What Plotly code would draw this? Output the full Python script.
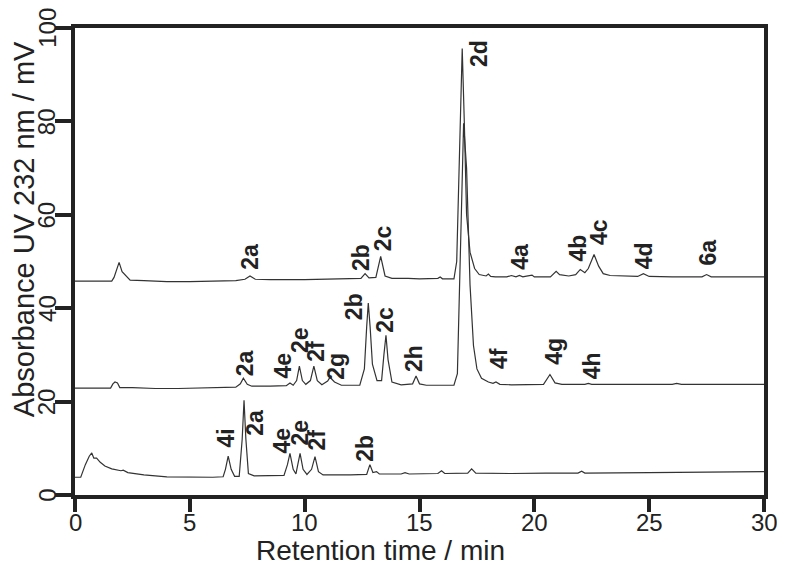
import plotly.graph_objects as go

# chromatogram traces (time in min, absorbance in mV)
top_t = [0, 1.6, 1.7, 1.8, 1.92, 2.05, 2.2, 2.4, 3.0, 4.0, 5.0, 6.0, 7.0, 7.4, 7.62, 7.85, 8.5, 10.0, 11.0, 12.0,
         12.45, 12.63, 12.8, 13.1, 13.31, 13.5, 13.8, 14.5, 15.0, 15.8, 15.9, 16.0, 16.5, 16.62, 16.75, 16.86, 16.95,
         17.05, 17.2, 17.4, 17.6, 17.9, 18.0, 18.1, 18.3, 18.8, 19.0, 19.2, 19.35, 19.5, 19.6, 19.9, 20.0, 20.7,
         20.95, 21.1, 21.5, 21.8, 22.0, 22.2, 22.35, 22.6, 22.8, 23.0, 23.3, 24.0, 24.5, 24.75, 25.0, 26.0, 27.3,
         27.5, 27.7, 28.0, 30.0]
top_v = [45.8, 45.8, 46.6, 48.0, 49.8, 47.8, 47.0, 46.0, 45.9, 45.7, 45.7, 45.8, 45.9, 46.2, 46.9, 46.2, 46.1, 46.1,
         46.2, 46.3, 46.4, 47.4, 46.5, 46.6, 51.1, 46.9, 46.4, 46.4, 46.3, 46.4, 46.7, 46.3, 46.3, 50.0, 75.0, 95.6,
         80.0, 60.0, 52.0, 48.5, 47.2, 46.9, 47.3, 46.8, 46.7, 46.7, 47.0, 46.7, 47.0, 46.7, 46.8, 47.1, 46.7, 46.7,
         47.9, 47.2, 46.9, 47.2, 48.3, 47.6, 48.5, 51.5, 49.0, 47.4, 47.0, 46.8, 46.8, 47.4, 46.8, 46.7, 46.7, 47.2,
         46.7, 46.7, 46.7]

mid_t = [0, 1.55, 1.65, 1.74, 1.85, 1.95, 2.5, 3.5, 4.5, 5.5, 6.5, 7.0, 7.2, 7.33, 7.5, 7.7, 8.5, 9.2, 9.36, 9.5,
         9.65, 9.77, 9.9, 10.05, 10.25, 10.4, 10.55, 10.75, 11.0, 11.1, 11.3, 11.6, 12.4, 12.6, 12.7, 12.77, 12.85,
         12.95, 13.15, 13.35, 13.45, 13.54, 13.63, 13.8, 14.2, 14.7, 14.85, 15.0, 15.3, 16.5, 16.65, 16.8, 16.92,
         17.05, 17.2, 17.35, 17.5, 17.7, 18.0, 18.2, 18.33, 18.5, 19.0, 20.4, 20.68, 20.9, 21.2, 22.2, 22.35, 22.5,
         24.0, 26.0, 26.2, 26.4, 30.0]
mid_v = [22.9, 22.9, 23.8, 24.2, 24.0, 23.0, 23.0, 22.8, 22.8, 22.9, 23.0, 23.1, 23.8, 25.0, 23.7, 23.3, 23.3, 23.4,
         24.0, 23.5, 24.5, 27.6, 24.5, 23.7, 24.5, 27.6, 24.5, 23.6, 24.4, 25.2, 24.2, 23.5, 23.5, 27.0, 36.0, 41.1,
         36.0, 28.0, 24.5, 24.5, 30.0, 34.2, 29.0, 24.2, 23.6, 23.8, 25.5, 23.8, 23.5, 23.5, 26.0, 55.0, 79.6, 70.0,
         45.0, 32.0, 27.0, 25.0, 24.2, 23.9, 24.2, 23.7, 23.6, 23.7, 25.8, 24.0, 23.7, 23.7, 23.9, 23.7, 23.7, 23.7,
         23.9, 23.7, 23.7]

bot_t = [0, 0.25, 0.45, 0.62, 0.73, 0.82, 0.94, 1.1, 1.3, 1.6, 2.0, 2.1, 2.3, 3.0, 4.0, 5.0, 6.0, 6.45, 6.55, 6.67,
         6.8, 6.95, 7.15, 7.28, 7.36, 7.44, 7.55, 7.8, 9.1, 9.25, 9.36, 9.5, 9.62, 9.7, 9.8, 9.93, 10.1, 10.3, 10.45,
         10.6, 10.8, 12.0, 12.7, 12.84, 12.97, 13.13, 13.25, 14.2, 14.37, 14.55, 15.8, 15.96, 16.1, 17.1, 17.27, 17.45,
         19.0, 20.5, 21.9, 22.06, 22.2, 25.0, 28.8, 30.0]
bot_v = [3.8, 3.8, 6.5, 8.3, 9.0, 7.9, 7.9, 7.0, 6.2, 5.6, 5.2, 5.3, 4.8, 4.3, 3.9, 3.8, 3.8, 3.9, 5.5, 8.3, 5.5, 4.0,
         4.0, 12.0, 20.3, 12.0, 4.6, 4.1, 4.2, 6.5, 8.9, 5.5, 4.5, 6.5, 8.9, 5.5, 4.4, 5.5, 8.2, 5.0, 4.3, 4.3, 4.4, 6.5,
         4.8, 5.0, 4.5, 4.5, 4.8, 4.5, 4.6, 5.2, 4.6, 4.7, 5.6, 4.7, 4.6, 4.7, 4.7, 5.1, 4.7, 4.8, 4.9, 5.0]

# peak labels: name, time, absorbance (label centre)
top_lab = ["2a", "2b", "2c", "2d", "4a", "4b", "4c", "4d", "6a"]
top_lab_t = [7.62, 12.48, 13.40, 17.56, 19.37, 21.91, 22.81, 24.81, 27.56]
top_lab_v = [51.0, 50.9, 54.9, 94.5, 51.0, 52.8, 56.3, 51.3, 51.9]

mid_lab = ["2a", "4e", "2e", "2f", "2g", "2b", "2c", "2h", "4f", "4g", "4h"]
mid_lab_t = [7.40, 9.07, 9.80, 10.52, 11.39, 12.12, 13.52, 14.73, 18.43, 20.82, 22.52]
mid_lab_v = [28.2, 27.8, 33.2, 30.8, 27.6, 40.3, 37.4, 29.2, 29.2, 30.7, 27.6]

bot_lab = ["4i", "2a", "4e", "2e", "2f", "2b"]
bot_lab_t = [6.57, 7.84, 9.00, 9.80, 10.52, 12.65]
bot_lab_v = [12.3, 15.5, 11.6, 13.4, 11.8, 10.0]

x_ticks = [0, 5, 10, 15, 20, 25, 30]
y_ticks = [0, 20, 40, 60, 80, 100]

FONT = "Arial, Liberation Sans, sans-serif"
INK = "#222222"

fig = go.Figure()
for t, v in [(top_t, top_v), (mid_t, mid_v), (bot_t, bot_v)]:
    fig.add_trace(go.Scatter(x=t, y=v, mode="lines", line=dict(color="#333333", width=1.2),
                             showlegend=False, hoverinfo="skip"))

anns = []
for names, ts, vs in [(top_lab, top_lab_t, top_lab_v), (mid_lab, mid_lab_t, mid_lab_v),
                      (bot_lab, bot_lab_t, bot_lab_v)]:
    for n, t, v in zip(names, ts, vs):
        anns.append(dict(x=t, y=v, text="<b>%s</b>" % n, showarrow=False, textangle=-90,
                         xanchor="center", yanchor="middle", font=dict(size=23, color=INK, family=FONT)))

# tick labels placed by hand so they sit as close to the ticks as in the original
for t in x_ticks:
    anns.append(dict(x=t, y=-0.058, xref="x", yref="paper", text=str(t), showarrow=False,
                     xanchor="center", yanchor="middle", font=dict(size=24, color=INK, family=FONT)))
for v in y_ticks:
    anns.append(dict(x=-0.041, y=v, xref="paper", yref="y", text=str(v), showarrow=False, textangle=-90,
                     xanchor="center", yanchor="middle", font=dict(size=24, color=INK, family=FONT)))

anns.append(dict(x=13.3, y=-0.118, xref="x", yref="paper", text="Retention time / min", showarrow=False,
                 xanchor="center", yanchor="middle", font=dict(size=28, color=INK, family=FONT)))
anns.append(dict(x=-0.075, y=57, xref="paper", yref="y", text="Absorbance UV 232 nm / mV", showarrow=False,
                 textangle=-90, xanchor="center", yanchor="middle", font=dict(size=29, color=INK, family=FONT)))

axis = dict(showline=True, linewidth=3.5, linecolor=INK, mirror=True, ticks="outside", tickwidth=3.5,
            tickcolor=INK, showgrid=False, zeroline=False, automargin=False, showticklabels=False)
# the page body adds an 8px offset, so the figure is 8px smaller than the window
fig.update_layout(
    width=777, height=557,
    margin=dict(l=67, r=21, t=20, b=70),
    plot_bgcolor="white", paper_bgcolor="white",
    xaxis=dict(range=[0, 30], tickvals=x_ticks, ticklen=13, **axis),
    yaxis=dict(range=[0, 100], tickvals=y_ticks, ticklen=16, **axis),
    annotations=anns,
)
fig.write_html("out.html")
